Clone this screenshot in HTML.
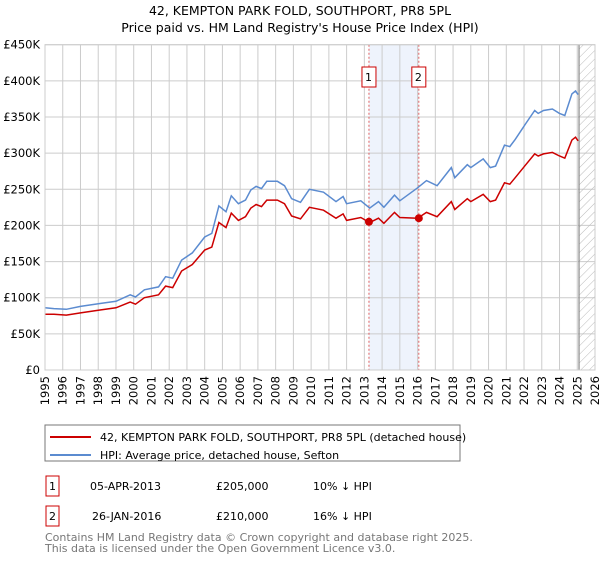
<!DOCTYPE html>
<html><head><meta charset="utf-8"><style>
body{margin:0;background:#fff;font-family:"Liberation Sans","DejaVu Sans",sans-serif;}
svg text{font-family:"DejaVu Sans","Liberation Sans",sans-serif;}
</style></head><body>
<svg id="chart" width="600" height="560" viewBox="0 0 600 560" xmlns="http://www.w3.org/2000/svg">
<defs><pattern id="hatch" width="6" height="6" patternUnits="userSpaceOnUse" patternTransform="rotate(45)"><line x1="0" y1="0" x2="0" y2="6" stroke="#bbb" stroke-width="1"/></pattern></defs>
<text x="300" y="15" text-anchor="middle" font-size="12.5" fill="#000">42, KEMPTON PARK FOLD, SOUTHPORT, PR8 5PL</text>
<text x="300" y="32" text-anchor="middle" font-size="12.5" fill="#000">Price paid vs. HM Land Registry's House Price Index (HPI)</text>
<g id="grid"></g><g id="marks"></g><g id="axes"></g>
<rect x="45" y="425" width="415" height="36" fill="#fff" stroke="#777"/>
<line x1="50" y1="437" x2="91" y2="437" stroke="#cc0000" stroke-width="2"/>
<text x="100" y="441" font-size="11">42, KEMPTON PARK FOLD, SOUTHPORT, PR8 5PL (detached house)</text>
<line x1="50" y1="455" x2="91" y2="455" stroke="#5b8bd0" stroke-width="2"/>
<text x="100" y="459" font-size="11">HPI: Average price, detached house, Sefton</text>
<g>
<rect x="46" y="476" width="13" height="20" fill="#fff" stroke="#cc0000"/>
<text x="52.5" y="490" text-anchor="middle" font-size="11">1</text>
<text x="90" y="490" font-size="11">05-APR-2013</text>
<text x="216" y="490" font-size="11">£205,000</text>
<text x="313" y="490" font-size="11">10% ↓ HPI</text></g>
<g>
<rect x="46" y="506" width="13" height="20" fill="#fff" stroke="#cc0000"/>
<text x="52.5" y="520" text-anchor="middle" font-size="11">2</text>
<text x="92" y="520" font-size="11">26-JAN-2016</text>
<text x="216" y="520" font-size="11">£210,000</text>
<text x="313" y="520" font-size="11">16% ↓ HPI</text></g>
<text x="45" y="541" font-size="11" fill="#777">Contains HM Land Registry data © Crown copyright and database right 2025.</text>
<text x="45" y="552" font-size="11" fill="#777">This data is licensed under the Open Government Licence v3.0.</text>
</svg>
<script>
const years=[1995.0,1995.5,1996.2,1997.0,1998.1,1999.0,1999.8,2000.1,2000.6,2001.4,2001.8,2002.2,2002.7,2003.3,2004.0,2004.4,2004.8,2005.2,2005.5,2005.9,2006.3,2006.6,2006.9,2007.2,2007.5,2008.1,2008.5,2008.9,2009.4,2009.9,2010.7,2011.4,2011.8,2012.0,2012.8,2013.3,2013.8,2014.1,2014.7,2015.0,2016.0,2016.5,2017.1,2017.9,2018.1,2018.8,2019.0,2019.7,2020.1,2020.4,2020.9,2021.2,2021.5,2022.1,2022.6,2022.8,2023.1,2023.6,2024.0,2024.3,2024.7,2024.9,2025.05];
const hpiValues=[86,85,84,88,92,95,104,101,111,115,129,127,152,162,184,189,227,219,241,230,235,249,254,251,261,261,255,237,232,250,246,233,240,230,234,224,233,225,242,234,252,262,255,280,266,284,280,292,280,282,311,309,319,341,359,355,359,361,355,352,382,386,381];
const propertyValues=[77,77,76,79,83,86,94,91,100,104,116,114,137,146,166,170,204,197,217,207,212,224,229,226,235,235,230,213,209,225,221,210,216,207,211,204,210,203,218,211,210,218,212,233,222,237,233,243,233,235,259,257,266,284,299,296,299,301,296,293,318,322,317];
const saleYears=[2013.26,2016.07];
const salePrices=[205,210];
const yTicks=[0,50,100,150,200,250,300,350,400,450];
const yTickLabels=["£0","£50K","£100K","£150K","£200K","£250K","£300K","£350K","£400K","£450K"];
const xTickYears=[1995,1996,1997,1998,1999,2000,2001,2002,2003,2004,2005,2006,2007,2008,2009,2010,2011,2012,2013,2014,2015,2016,2017,2018,2019,2020,2021,2022,2023,2024,2025,2026];
const forecastStart=2025.1;
const X0=45,X1=595,Y0=370,Y1=44.7;
const xs=y=>X0+(y-1995)/(2026-1995)*(X1-X0);
const ys=v=>Y0-v/450*(Y0-Y1);
const NS="http://www.w3.org/2000/svg";
function mk(tag,attrs,parent){const e=document.createElementNS(NS,tag);for(const k in attrs)e.setAttribute(k,attrs[k]);parent.appendChild(e);return e;}
const grid=document.getElementById('grid'),marks=document.getElementById('marks'),axes=document.getElementById('axes');
let r=mk('rect',{x:xs(saleYears[0]),y:Y1,width:xs(saleYears[1])-xs(saleYears[0]),height:Y0-Y1,fill:'#eef3fc'},grid);


xTickYears.forEach(y=>{const l=mk('line',{x1:xs(y),x2:xs(y),y1:Y1,y2:Y0,stroke:'#cccccc'},grid);


const t=mk('text',{x:0,y:0,'font-size':'11.5','text-anchor':'end',transform:`translate(${xs(y)+4},${Y0+6}) rotate(-90)`},axes);t.textContent=y;

});
yTicks.forEach((v,i)=>{const l=mk('line',{x1:X0,x2:X1,y1:ys(v),y2:ys(v),stroke:'#cccccc'},grid);


const t=mk('text',{x:40,y:ys(v)+4,'font-size':'11.5','text-anchor':'end'},axes);t.textContent=yTickLabels[i];

});
const h=mk('rect',{x:xs(forecastStart),y:Y1,width:X1-xs(forecastStart),height:Y0-Y1,fill:'url(#hatch)'},grid);


const hl=mk('line',{x1:xs(forecastStart),x2:xs(forecastStart),y1:Y1,y2:Y0,stroke:'#888','stroke-width':1.2},grid);


saleYears.forEach((y,i)=>{const l=mk('line',{x1:xs(y),x2:xs(y),y1:Y1,y2:Y0,stroke:'#e06060','stroke-dasharray':'2,2'},marks);

});
const pts=a=>years.map((y,i)=>xs(y).toFixed(1)+','+ys(a[i]).toFixed(1)).join(' ');
const hp=mk('polyline',{points:pts(hpiValues),fill:'none',stroke:'#5b8bd0','stroke-width':1.5},marks);


const pp=mk('polyline',{points:pts(propertyValues),fill:'none',stroke:'#cc0000','stroke-width':1.5},marks);


saleYears.forEach((y,i)=>{const c=mk('circle',{cx:xs(y),cy:ys(salePrices[i]),r:4,fill:'#cc0000'},marks);


const b=mk('rect',{x:xs(y)-7,y:67,width:14,height:20,fill:'#fff',stroke:'#cc0000'},marks);


const t=mk('text',{x:xs(y)-0.5,y:81,'font-size':'11','text-anchor':'middle'},marks);t.textContent=i+1;

});
const fr=mk('rect',{x:X0,y:Y1,width:X1-X0,height:Y0-Y1,fill:'none',stroke:'#cccccc'},axes);


</script>
</body></html>
